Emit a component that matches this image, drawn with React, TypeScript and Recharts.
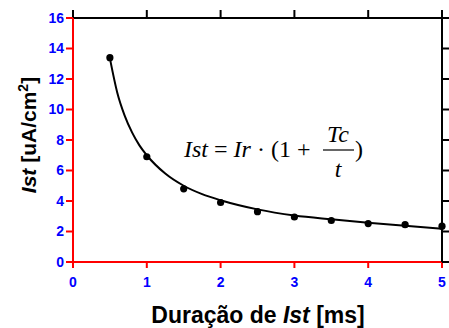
import React from "react";
import {
  ComposedChart,
  Line,
  XAxis,
  YAxis,
} from "recharts";

// measured stimulus amplitude vs pulse duration
const pulseMs = [0.5, 1, 1.5, 2, 2.5, 3, 3.5, 4, 4.5, 5];
const istValues = [13.4, 6.9, 4.8, 3.9, 3.3, 2.95, 2.72, 2.52, 2.45, 2.35];

// fitted curve
const fitMs = [0.5, 0.6, 0.7, 0.8, 0.9, 1, 1.25, 1.5, 1.75, 2, 2.5, 3, 3.5, 4, 4.5, 5];
const fitValues = [13.35, 11.1, 9.6, 8.5, 7.65, 7.0, 5.8, 5.0, 4.45, 4.05, 3.45, 3.05, 2.8, 2.58, 2.38, 2.18];

const xTicks = [0, 1, 2, 3, 4, 5];
const yTicks = [0, 2, 4, 6, 8, 10, 12, 14, 16];

// one table for the chart: every fit sample, plus the measured value where there is one
const rows = fitMs.map((t, i) => {
  const j = pulseMs.indexOf(t);
  return { t, fit: fitValues[i], ist: j >= 0 ? istValues[j] : null };
});

const SANS = "'Liberation Sans', Arial, sans-serif";
const SERIF = "'Liberation Serif', 'Times New Roman', serif";

const Dot = (props: any) => {
  const { cx, cy, value } = props;
  if (value == null || typeof cy !== "number" || isNaN(cy)) return null;
  return <circle key={`d-${cx}`} cx={cx} cy={cy} r={3.6} fill="black" />;
};

const blank = () => "";

export default function App() {
  return (
    <div
      style={{
        position: "fixed",
        left: 0,
        top: 0,
        width: 449,
        height: 328,
        background: "#fff",
        fontFamily: SANS,
      }}
    >
      <ComposedChart width={449} height={328} data={rows} margin={{ top: 8, right: 0, left: 0, bottom: 0 }}>
        <XAxis
          xAxisId="b"
          dataKey="t"
          type="number"
          domain={[0, 5]}
          ticks={xTicks}
          height={66}
          stroke="red"
          strokeWidth={2}
          tick={{ fill: "blue", fontSize: 14, fontWeight: 700 }}
          tickSize={6}
          tickMargin={9}
        />
        <XAxis
          xAxisId="top"
          dataKey="t"
          orientation="top"
          type="number"
          domain={[0, 5]}
          ticks={xTicks}
          height={10}
          stroke="black"
          strokeWidth={2}
          tickFormatter={blank}
          tickSize={8}
        />
        <YAxis
          yAxisId="l"
          type="number"
          domain={[0, 16]}
          ticks={yTicks}
          width={73}
          stroke="red"
          strokeWidth={2}
          tick={{ fill: "blue", fontSize: 14, fontWeight: 700 }}
          tickSize={7}
          tickMargin={2}
        />
        <YAxis
          yAxisId="r"
          orientation="right"
          type="number"
          domain={[0, 16]}
          ticks={yTicks}
          width={7}
          stroke="black"
          strokeWidth={2}
          tickFormatter={blank}
          tickSize={7}
        />
        {/* invisible series so the top and right frame axes get drawn */}
        <Line
          xAxisId="top"
          yAxisId="r"
          dataKey="fit"
          stroke="none"
          dot={false}
          activeDot={false}
          isAnimationActive={false}
        />
        <Line
          xAxisId="b"
          yAxisId="l"
          dataKey="fit"
          type="monotone"
          stroke="black"
          strokeWidth={2}
          dot={false}
          activeDot={false}
          isAnimationActive={false}
        />
        <Line
          xAxisId="b"
          yAxisId="l"
          dataKey="ist"
          stroke="none"
          dot={Dot}
          activeDot={false}
          isAnimationActive={false}
        />
      </ComposedChart>
      <svg
        width={449}
        height={328}
        style={{ position: "absolute", left: 0, top: 0, pointerEvents: "none" }}
      >
        <text
          transform="translate(36,135) rotate(-90)"
          textAnchor="middle"
          fontFamily={SANS}
          fontWeight={700}
          fontSize={21}
          fill="black"
        >
          <tspan fontStyle="italic">Ist</tspan>
          <tspan> [uA/cm</tspan>
          <tspan fontSize={14} dy={-8}>2</tspan>
          <tspan dy={8}>]</tspan>
        </text>
        <text
          x={258}
          y={323}
          textAnchor="middle"
          fontFamily={SANS}
          fontWeight={700}
          fontSize={23}
          fill="black"
        >
          Duração de <tspan fontStyle="italic">Ist</tspan> [ms]
        </text>
        <g fontFamily={SERIF} fontSize={24} fill="black">
          <text x={184} y={157}>
            <tspan fontStyle="italic">Ist</tspan>
            <tspan> = </tspan>
            <tspan fontStyle="italic">Ir</tspan>
            <tspan> · (1 + </tspan>
          </text>
          <text x={338} y={142} textAnchor="middle" fontStyle="italic">Tc</text>
          <line x1={323} x2={354} y1={150} y2={150} stroke="black" strokeWidth={1.2} />
          <text x={338} y={177} textAnchor="middle" fontStyle="italic">t</text>
          <text x={355} y={157}>)</text>
        </g>
      </svg>
    </div>
  );
}
